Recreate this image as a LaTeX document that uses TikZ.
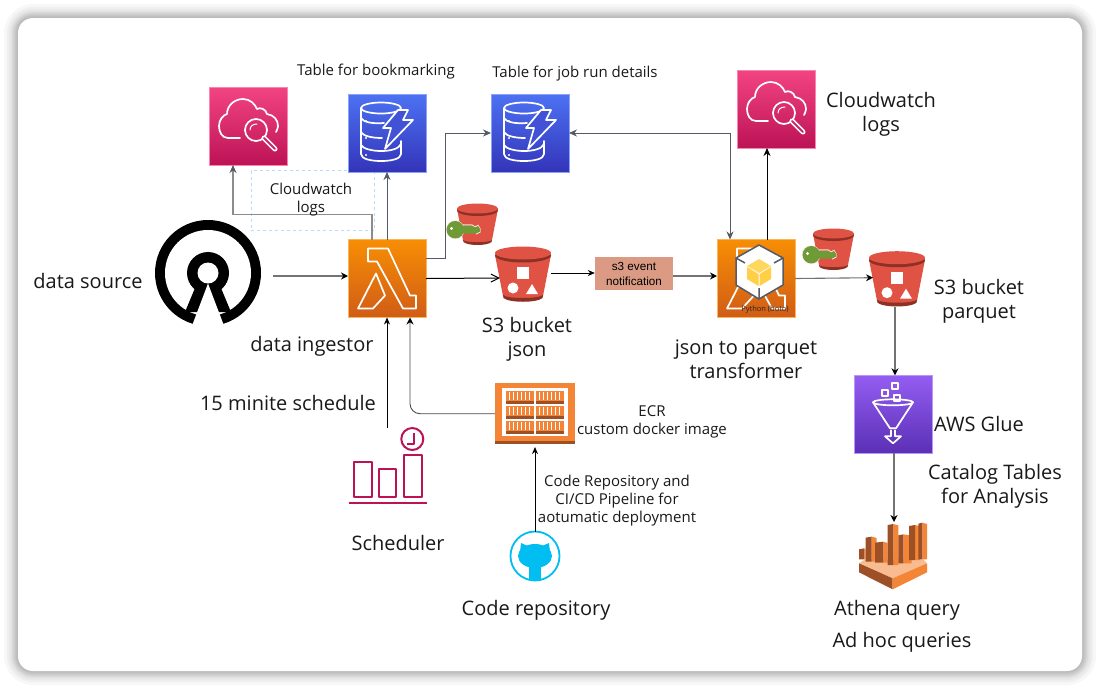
\documentclass[tikz,border=0pt]{standalone}
\usepackage{fontspec}
\setmainfont{Open Sans}
\newfontfamily\arialfont{Liberation Sans}
\usetikzlibrary{arrows.meta}
\definecolor{awsline}{HTML}{545B64}
\definecolor{bucketred}{HTML}{E05243}
\definecolor{bucketdark}{HTML}{8C3123}
\definecolor{ecrorange}{HTML}{F58536}
\definecolor{ecrdark}{HTML}{9D5025}
\definecolor{schedpink}{HTML}{BC1356}
\definecolor{gitblue}{HTML}{00BEF2}
\definecolor{keygreen}{HTML}{6F9B37}
\definecolor{lambtop}{HTML}{F78E04}
\definecolor{lambbot}{HTML}{D05C17}
\definecolor{watchtop}{HTML}{F34482}
\definecolor{watchbot}{HTML}{BC1356}
\definecolor{watchmid}{HTML}{CD2864}
\definecolor{tabletop}{HTML}{4D72F3}
\definecolor{tablebot}{HTML}{3334B9}
\definecolor{tablemid}{HTML}{4152D6}
\definecolor{gluetop}{HTML}{945DF2}
\definecolor{gluebot}{HTML}{5A30B5}
\definecolor{dashblue}{HTML}{BBD9FF}
\definecolor{notefill}{HTML}{DB9A84}
\definecolor{cubeyellow}{HTML}{FFD75E}
\definecolor{cubeshade}{HTML}{FFCF45}
\tikzset{
    awsbox/.style 2 args={minimum size=78pt, inner sep=0pt, outer sep=0pt, top color=#1, bottom color=#2, draw=#1!65!white, line width=.5pt},
    blank/.style={inner sep=0pt, outer sep=0pt},
    bigtxt/.style={font=\fontsize{20}{24}\selectfont, align=center, text=black!90, inner sep=0pt},
    midtxt/.style={font=\fontsize{15}{18}\selectfont, align=center, text=black!90, inner sep=0pt},
    awsflow/.style={draw=awsline, line width=.8pt, -{Stealth[length=8pt,width=7pt]}},
    softflow/.style={draw=black!55, line width=1.1pt, -{Stealth[length=7pt,width=7pt,black]}},
    blackflow/.style={draw=black, line width=.8pt, -{Stealth[length=7pt,width=6pt]}},
    whiteline/.style={draw=white, line width=1.7pt, line join=round, line cap=round},
    % lambda symbol, origin at the top left of its box
    pics/lambdaicon/.style={code={
        \draw[whiteline] (20,9) -- (40,9) -- (62,56) -- (68,56) -- (68,69) -- (55,69) -- (29,22) -- (20,22) -- cycle;
        \draw[whiteline] (28,34) -- (37,56) -- (25,69) -- (10,69) -- cycle;
    }},
    % cloud and magnifier
    pics/watchicon/.style={code={
        \draw[whiteline] (31,51) -- (19,51) .. controls (13,51) and (10,45) .. (10,39) .. controls (10,33) and (14,28) .. (18,27)
            .. controls (18,18) and (26,12) .. (34,12) .. controls (41,12) and (46,17) .. (48,22)
            .. controls (51,20) and (57,22) .. (58,27) .. controls (65,28) and (69,33) .. (69,39) .. controls (69,41) and (68,43) .. (67,45);
        \draw[whiteline] (47,43) circle (11pt);
        \draw[whiteline, line width=1pt] (41,43) .. controls (41,39) and (44,37) .. (48,37);
        \draw[draw=white, line width=5pt, line cap=round] (55,51) -- (66,62);
        \draw[draw=watchmid, line width=1.8pt, line cap=round] (55,51) -- (66,62);
    }},
    % table stack with bolt
    pics/tableicon/.style={code={
        \draw[whiteline] (33,14) ellipse (20pt and 5.5pt);
        \draw[whiteline] (13,14) -- (13,60) .. controls (13,65) and (23,67) .. (33,67) .. controls (43,67) and (53,65) .. (53,60) -- (53,47);
        \draw[whiteline] (13,24) .. controls (15,28) and (24,30) .. (36,29);
        \draw[whiteline] (13,38) .. controls (15,42) and (24,44) .. (34,44);
        \draw[whiteline] (13,51) .. controls (15,55) and (25,57) .. (33,57) .. controls (42,57) and (51,55) .. (53,50);
        \foreach \dy in {27,44,61} \fill[white] (18,\dy) circle (1.2pt);
        \draw[whiteline, fill=tablemid] (50,16) -- (60,16) -- (55,26) -- (65,26) -- (37,55) -- (43,34) -- (35,34) -- cycle;
    }},
    % large bucket, origin at its top left
    pics/bucketicon/.style={code={
        \fill[bucketred] (0,9) -- (8,50) .. controls (12,54) and (44,54) .. (48,50) -- (56,9) -- cycle;
        \fill[bucketdark] (8,49) .. controls (12,53) and (44,53) .. (48,49) -- (47.5,52) .. controls (42,57) and (14,57) .. (8.5,52) -- cycle;
        \fill[bucketdark] (28,9.5) ellipse (28pt and 7pt);
        \fill[bucketred] (28,7) ellipse (28pt and 6.5pt);
        \fill[white] (22,21) rectangle (33.5,33);
        \fill[white] (18,42) circle (5.5pt);
        \fill[white] (31,48) -- (43,48) -- (37,38) -- cycle;
    }},
    % small bucket with green key
    pics/keybucket/.style={code={
        \fill[bucketred] (0,6) -- (6,37) .. controls (10,41) and (31,41) .. (35,37) -- (41,6) -- cycle;
        \fill[bucketdark] (6,37) .. controls (10,40) and (31,40) .. (35,37) -- (34.5,39) .. controls (30,43) and (11,43) .. (6.5,39) -- cycle;
        \fill[bucketdark] (20.5,7.5) ellipse (20.5pt and 5.5pt);
        \fill[bucketred] (20.5,5.5) ellipse (20.5pt and 5pt);
        \draw[white!80!bucketred, line width=1.2pt] (-1.7,26.7) circle (8.7pt) (-1.7,22) -- (15,22) -- (18,24) -- (21,22.5) -- (23,26) -- (23,29) -- (19,31);
        \fill[keygreen] (-1.7,26.7) circle (8.7pt);
        \fill[keygreen] (-1.7,22.5) -- (15,22.5) -- (18,24.5) -- (21,23) -- (23,26) -- (23,28.5) -- (19,30.5) -- (-1.7,30.5) -- cycle;
        \fill[white] (-5.5,25.5) circle (1.7pt);
    }}
}
\begin{document}
\begin{tikzpicture}[x=1pt, y=-1pt]
    \useasboundingbox (0,0) rectangle (1100,689);

    % card with soft shadow
    \foreach \grow in {14,11,9,7,6,5,4,3,2,1}
        \fill[black, opacity=0.03, rounded corners=15pt+\grow pt] (18-\grow,18-\grow) rectangle (1082+\grow,671+\grow);
    \fill[white, rounded corners=15pt] (18,18) rectangle (1082,671);

    % dashed note round the left log label
    \node[draw=dashblue, dashed, line width=.8pt, minimum width=123pt, minimum height=60pt, inner sep=0pt] (logbox) at (312.5,200.5) {};

    % open source logo
    \node[blank, minimum size=106pt] (osi) at (208,273) {};
    \fill[black] (208,273) circle (53pt);
    \fill[white] (208,273) circle (43pt);
    \fill[black] (208,273) circle (21pt);
    \fill[black] (195,288) -- (221,288) -- (231,312) -- (185,312) -- cycle;
    \fill[white] (208,283.5) -- (190,331) -- (226,331) -- cycle;
    \fill[white] (208,273) circle (10.5pt);

    % compute boxes
    \node[awsbox={lambtop}{lambbot}] (lamb1) at (387,278.5) {};
    \pic at (lamb1.north west) {lambdaicon};
    \node[awsbox={lambtop}{lambbot}] (lamb2) at (756,278.5) {};
    \pic at (lamb2.north west) {lambdaicon};

    % python cube on the second box
    \fill[white, draw=awsline, line width=1.5pt, line join=round] (759,245) -- (783,258) -- (783,285) -- (759,299) -- (736,285) -- (736,258) -- cycle;
    \draw[awsline, line width=1.5pt] (736,258) -- (745,263) (783,258) -- (774,263) (759,299) -- (759,288);
    \fill[cubeyellow] (759,259) -- (771,266) -- (759,273) -- (747,266) -- cycle;
    \fill[cubeshade] (747,267) -- (758.5,274) -- (758.5,286) -- (747,279) -- cycle;
    \fill[cubeshade] (771,267) -- (759.5,274) -- (759.5,286) -- (771,279) -- cycle;
    \node[font=\fontsize{7.5}{9}\selectfont, text=black!85, inner sep=0pt] (boto) at (765,310) {Python (boto)};

    % log boxes
    \node[awsbox={watchtop}{watchbot}] (cw1) at (248,126) {};
    \pic at (cw1.north west) {watchicon};
    \node[awsbox={watchtop}{watchbot}] (cw2) at (776,109) {};
    \pic at (cw2.north west) {watchicon};

    % table boxes
    \node[awsbox={tabletop}{tablebot}] (ddb1) at (387,133) {};
    \pic at (ddb1.north west) {tableicon};
    \node[awsbox={tabletop}{tablebot}] (ddb2) at (530,133) {};
    \pic at (ddb2.north west) {tableicon};

    % buckets
    \node[blank, minimum size=56pt] (s3json) at (523,274) {};
    \pic at (s3json.north west) {bucketicon};
    \node[blank, minimum size=56pt] (s3parq) at (897,278.7) {};
    \pic at (s3parq.north west) {bucketicon};
    \node[blank, minimum width=41pt, minimum height=42pt] (keyb1) at (477.5,224) {};
    \pic at (keyb1.north west) {keybucket};
    \node[blank, minimum width=41pt, minimum height=42pt] (keyb2) at (833.5,249) {};
    \pic at (keyb2.north west) {keybucket};

    % event note
    \node[fill=notefill, minimum width=78pt, minimum height=33pt, inner sep=0pt, align=center, font=\arialfont\fontsize{11.7}{15}\selectfont] (notif) at (634,273.5) {s3 event\\notification};

    % glue box
    \node[awsbox={gluetop}{gluebot}] (glue) at (893,414.3) {};
    \begin{scope}[shift={(glue.north west)}]
        \draw[whiteline] (19,27) -- (36,53) -- (42,53) -- (59,27);
        \draw[whiteline] (39,27) ellipse (20pt and 3pt);
        \draw[whiteline] (37,55) -- (37,61) -- (31,61) -- (39,68) -- (47,61) -- (41,61) -- (41,55);
        \draw[whiteline] (28,15) rectangle (34,21) (38,8) rectangle (44,14) (40,20) rectangle (46,26);
    \end{scope}

    % ecr box
    \node[blank, fill=ecrorange, minimum width=80pt, minimum height=60.7pt] (ecr) at (535,413.7) {};
    \fill[ecrdark] (495,441) rectangle (575,444);
    \fill[white] (501.7,388.3) rectangle (568.3,436);
    \foreach \cx in {506,536} \foreach \cy in {391,406,421} {
        \fill[ecrorange] (\cx,\cy) rectangle (\cx+28,\cy+12.5);
        \fill[ecrdark] (\cx,\cy+10) rectangle (\cx+28,\cy+12.5);
        \foreach \st in {3,7,...,25} \draw[white, line width=.7pt] (\cx+\st,\cy+1) -- (\cx+\st,\cy+9);
    }

    % scheduler
    \node[blank, minimum width=78pt, minimum height=77pt] (sched) at (388,466.5) {};
    \begin{scope}[draw=schedpink, line width=2pt, line join=round]
        \draw (354,461.7) rectangle (371.7,497.3);
        \draw (379,469.3) rectangle (396,497.3);
        \draw (404,455) rectangle (421.7,497.3);
        \draw (348.7,503) -- (426.7,503);
        \draw (412.3,439) circle (11pt);
        \draw (414,433) -- (414,444) -- (407,444);
    \end{scope}

    % git logo
    \node[draw=gitblue, circle, line width=1.8pt, minimum size=49pt, inner sep=0pt, outer sep=0pt] (gitrepo) at (535,556) {};
    \begin{scope}
        \clip (535,556) circle (24pt);
        \fill[gitblue] (535,556) ellipse (17pt and 12pt);
        \fill[gitblue] (520,552) -- (521,543) -- (530,547) -- (540,547) -- (549,543) -- (550,552) -- cycle;
        \fill[gitblue] (529,564) rectangle (541,582);
    \end{scope}

    % athena icon, in thirds of a pixel
    \node[blank, minimum width=70pt, minimum height=68pt] (athena) at (893,556) {};
    \begin{scope}[shift={(820,500)}, scale=.3333]
        \fill[ecrorange!55!white] (117,190) -- (135,178) -- (310,178) -- (321,190) -- (218,235) -- cycle;
        \fill[ecrdark] (117,190) -- (218,235) -- (218,268) -- (117,217) -- cycle;
        \fill[ecrorange] (321,190) -- (218,235) -- (218,268) -- (321,217) -- cycle;
        \foreach \lft/\mdl/\rgt/\tp/\bt in {117/133/137/145/178, 137/155/170/110/185, 165/190/203/125/188, 203/220/235/72/195, 235/250/275/103/190, 267/285/300/75/180, 295/307/321/68/178} {
            \fill[ecrorange] (\mdl,\tp) -- (\rgt,\tp+4) -- (\rgt,\bt) -- (\mdl,\bt) -- cycle;
            \fill[ecrdark] (\lft,\tp+3) -- (\mdl,\tp) -- (\mdl,\bt) -- (\lft,\bt) -- cycle;
        }
    \end{scope}

    % connectors
    \draw[softflow] ([xshift=12pt,yshift=-3pt]osi.east) -- ([yshift=2.5pt]lamb1.west);
    \draw[awsflow, draw=black!45, line width=1.1pt, -{Stealth[length=8pt,width=7pt,awsline]}] ([xshift=-15pt]lamb1.north) -- ++(0,-25) -| ([xshift=-15pt]cw1.south);
    \draw[awsflow] (lamb1.north) -- (ddb1.south);
    \draw[awsflow] ([yshift=20.5pt]lamb1.east) -- ++(19,0) |- (ddb2.west);
    \draw[black, line width=1pt, -{Straight Barb[length=8pt,width=8pt]}] (lamb1.east) -- ([xshift=5pt,yshift=-4pt]s3json.west);
    \draw[blackflow] ([yshift=1pt]s3json.east) -- ([yshift=.5pt]notif.west);
    \draw[softflow] ([yshift=-2.5pt]notif.east) -- ([yshift=2.5pt]lamb2.west);
    \draw[awsflow, {Stealth[length=8pt,width=7pt]}-{Stealth[length=8pt,width=7pt]}] (ddb2.east) -| ([xshift=-26pt]lamb2.north);
    \draw[blackflow, -{Stealth[length=8pt,width=7pt]}] ([xshift=11pt]lamb2.north) -- ([xshift=-9pt]cw2.south);
    \draw[softflow] (lamb2.east) -- ([xshift=4pt,yshift=1pt]s3parq.west);
    \draw[softflow] ([xshift=-2pt]s3parq.south) -- ([xshift=2pt]glue.north);
    \draw[softflow] ([xshift=1pt]glue.south) -- ([xshift=1pt]athena.north);
    \draw[blackflow] ([xshift=-1pt]sched.north) -- (lamb1.south);
    \draw[softflow, draw=black!70, line width=.9pt, rounded corners=10pt] (ecr.west) -| ([xshift=23pt]lamb1.south);
    \draw[blackflow] (gitrepo.north) -- ([yshift=-3pt]ecr.south);

    % labels
    \node[bigtxt] (lblsource) at (88,281) {data source};
    \node[midtxt] (lblbook) at (376,72) {Table for bookmarking};
    \node[midtxt] (lbljob) at (575,74) {Table for job run details};
    \node[midtxt] (lbllog1) at (311,200) {Cloudwatch\\logs};
    \node[bigtxt] (lbllog2) at (881,114) {Cloudwatch\\logs};
    \node[bigtxt] (lblingest) at (312,346) {data ingestor};
    \node[bigtxt] (lbljson) at (527,339) {S3 bucket\\json};
    \node[bigtxt] (lbltrans) at (746,359) {json to parquet\\transformer};
    \node[bigtxt] (lblparq) at (979,301.5) {S3 bucket\\parquet};
    \node[bigtxt] (lblsched) at (288,403) {15 minite schedule};
    \node[midtxt] (lblecr) at (652,422) {ECR\\custom docker image};
    \node[midtxt] (lblpipe) at (617,501) {Code Repository and\\CI/CD Pipeline for\\aotumatic deployment};
    \node[bigtxt] (lblscheduler) at (398,543) {Scheduler};
    \node[bigtxt] (lblcode) at (536,610) {Code repository};
    \node[bigtxt] (lblglue) at (979,424) {AWS Glue};
    \node[bigtxt] (lblcatalog) at (995,486) {Catalog Tables\\for Analysis};
    \node[bigtxt] (lblathena) at (897,610) {Athena query};
    \node[bigtxt] (lbladhoc) at (902,642) {Ad hoc queries};
\end{tikzpicture}
\end{document}
